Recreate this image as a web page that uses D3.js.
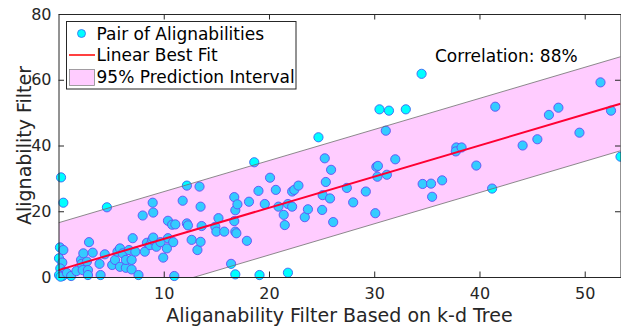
<!DOCTYPE html>
<html>
<head>
<meta charset="utf-8">
<script src="https://cdn.jsdelivr.net/npm/d3@7"></script>
<style>
  body { margin: 0; background: #fff; }
  svg { display: block; font-family: "DejaVu Sans", sans-serif; }
</style>
</head>
<body>
<div id="chart"></div>
<script>
// scatter values
const pairX = [0.24, 0.46, 0.14, 0.46, 0.05, 0.36, 0.17, 0.6, 0.05, 0.4, 0.2, 0.8, 1.2, 1.7,
  2.14, 2.2, 2.7, 2.36, 2.3, 2.8, 2.8, 2.9, 3.25, 3.9, 4.0, 4.4, 4.6, 5.1, 5.37, 5.6, 5.84,
  6.1, 5.84, 6.4, 6.4, 6.7, 6.95, 6.95, 7.05, 7.6, 7.3, 8.2, 8.0, 8.4, 8.7, 8.9, 9.0, 8.95,
  9.0, 9.3, 9.7, 9.95, 10.3, 10.4, 10.9, 10.4, 10.8, 11.1, 11.0, 11.8, 12.2, 12.3, 12.2,
  12.65, 13.2, 13.5, 13.4, 13.5, 13.6, 14.9, 15.0, 15.2, 15.75, 16.4, 16.7, 16.7, 16.8,
  17.0, 16.8, 16.9, 16.8, 17.9, 18.1, 18.6, 19.0, 19.1, 19.6, 20.1, 20.65, 20.9, 21.4,
  21.5, 21.8, 22.2, 21.8, 22.2, 22.4, 22.8, 23.4, 23.7, 24.7, 25.05, 25.1, 25.8, 25.4,
  25.9, 25.3, 26.1, 27.4, 28.0, 29.2, 30.1, 30.2, 30.35, 30.3, 31.2, 31.1, 30.5, 31.4,
  33.0, 32.0, 34.5, 34.6, 35.4, 35.5, 36.45, 37.8, 37.75, 38.3, 39.7, 41.2, 41.5, 44.1,
  45.5, 46.6, 47.5, 49.5, 51.5, 52.5, 53.4];
const pairY = [30.3, 22.6, 9.0, 8.2, 5.7, 4.4, 2.6, 1.6, 0.6, 0.3, 0.1, 1.2, 0.3, 1.8,
  5.2, 4.0, 4.7, 7.2, 2.1, 2.1, 0.6, 10.6, 7.4, 4.0, 0.6, 6.9, 21.2, 3.65, 5.2, 7.7, 8.7,
  7.2, 3.1, 2.8, 5.2, 8.2, 5.2, 2.3, 11.8, 0.6, 7.7, 7.7, 18.7, 10.4, 9.7, 11.3, 12.0, 22.6,
  19.6, 9.2, 10.6, 5.9, 8.7, 11.8, 10.6, 17.1, 15.9, 16.0, 0.3, 23.2, 16.3, 15.7, 27.8,
  11.3, 8.2, 10.7, 27.5, 21.4, 15.5, 15.3, 13.8, 17.9, 13.8, 4.0, 24.3, 17.0, 20.3,
  22.1, 13.8, 13.3, 0.8, 11.0, 22.9, 34.9, 26.2, 0.6, 22.2, 30.2, 26.5, 21.4, 18.9,
  15.8, 22.2, 21.4, 1.3, 26.0, 26.5, 27.8, 18.2, 20.6, 42.5, 20.4, 24.9, 23.9, 28.9,
  32.6, 36.1, 16.7, 27.1, 22.7, 26.0, 19.4, 33.5, 33.8, 30.5, 31.1, 44.5, 51.0, 50.6,
  51.0, 35.8, 61.8, 28.3, 28.4, 24.4, 29.4, 39.4, 38.2, 39.4, 33.9, 26.9, 51.8, 40.0,
  41.9, 49.3, 51.5, 43.9, 59.2, 50.6, 36.6];

// linear fit and 95% prediction band, endpoints
const fitX = [0, 53.4];
const fitY = [2.1, 52.7];
const bandUpper = [16.5, 67.0];
const bandLower = [-12.3, 38.4];

const xTicks = [10, 20, 30, 40, 50];
const yTicks = [0, 20, 40, 60, 80];
const legendLabels = ["Pair of Alignabilities", "Linear Best Fit", "95% Prediction Interval"];
const corrText = "Correlation: 88%";

const W = 621, H = 326;
const margin = { left: 58.5, right: 0.5, top: 14, bottom: 49 };
const axisColor = "#262626";

const svg = d3.select("#chart").append("svg")
  .attr("width", W).attr("height", H);

const x = d3.scaleLinear().domain([0, 53.4]).range([margin.left, W - margin.right]);
const y = d3.scaleLinear().domain([0, 80]).range([H - margin.bottom, margin.top]);

svg.append("clipPath").attr("id", "plotclip")
  .append("rect")
  .attr("x", x(0)).attr("y", y(80))
  .attr("width", x(53.4) - x(0)).attr("height", y(0) - y(80));

// points
svg.append("g").selectAll("circle")
  .data(pairX.map((d, i) => [d, pairY[i]]))
  .enter().append("circle")
  .attr("cx", d => x(d[0]))
  .attr("cy", d => y(d[1]))
  .attr("r", 4.6)
  .attr("fill", "#00ffff")
  .attr("stroke", "#3b63f2")
  .attr("stroke-width", 0.9);

// fit line
const line = d3.line().x(d => x(d[0])).y(d => y(d[1]));
svg.append("path")
  .datum(fitX.map((d, i) => [d, fitY[i]]))
  .attr("clip-path", "url(#plotclip)")
  .attr("d", line)
  .attr("fill", "none")
  .attr("stroke", "#ff0000")
  .attr("stroke-width", 2);

// prediction band drawn on top, translucent magenta
const bandArea = d3.area()
  .x(d => x(d[0])).y0(d => y(d[1])).y1(d => y(d[2]));
const bandData = fitX.map((d, i) => [d, bandLower[i], bandUpper[i]]);
const bandG = svg.append("g").attr("clip-path", "url(#plotclip)");
bandG.append("path")
  .datum(bandData)
  .attr("d", bandArea)
  .attr("fill", "#ff00ff")
  .attr("fill-opacity", 0.2);
[bandUpper, bandLower].forEach(b => {
  bandG.append("path")
    .datum(fitX.map((d, i) => [d, b[i]]))
    .attr("d", line)
    .attr("fill", "none")
    .attr("stroke", "#6e6e6e")
    .attr("stroke-width", 0.8);
});

// axes, ticks inward on all four sides
const tl = 5.5;
const axB = svg.append("g").attr("transform", `translate(0,${y(0)})`)
  .call(d3.axisBottom(x).tickValues(xTicks).tickSizeInner(-tl).tickSizeOuter(0).tickPadding(10.5));
const axT = svg.append("g").attr("transform", `translate(0,${y(80)})`)
  .call(d3.axisTop(x).tickValues(xTicks).tickSizeInner(-tl).tickSizeOuter(0).tickFormat(""));
const axL = svg.append("g").attr("transform", `translate(${x(0)},0)`)
  .call(d3.axisLeft(y).tickValues(yTicks).tickSizeInner(-tl).tickSizeOuter(0).tickPadding(7));
const axR = svg.append("g").attr("transform", `translate(${x(53.4)},0)`)
  .call(d3.axisRight(y).tickValues(yTicks).tickSizeInner(-tl).tickSizeOuter(0).tickFormat(""));
[axB, axT, axL, axR].forEach(a => {
  a.select(".domain").attr("stroke", axisColor).attr("stroke-width", 1);
  a.selectAll(".tick line").attr("stroke", axisColor);
  a.selectAll("text").attr("fill", axisColor)
    .style("font-family", "DejaVu Sans").style("font-size", "16px");
});

// axis titles
svg.append("text")
  .attr("x", (x(0) + x(53.4)) / 2).attr("y", 321.5)
  .attr("text-anchor", "middle")
  .attr("fill", axisColor)
  .style("font-size", "19px")
  .text("Aliganability Filter Based on k-d Tree");
svg.append("text")
  .attr("transform", `translate(31,${(y(0) + y(80)) / 2}) rotate(-90)`)
  .attr("text-anchor", "middle")
  .attr("fill", axisColor)
  .style("font-size", "19px")
  .text("Alignability Filter");

// correlation note
svg.append("text")
  .attr("x", 435).attr("y", 61.5)
  .attr("fill", "#000")
  .style("font-size", "17px")
  .text(corrText);

// legend
const lg = svg.append("g");
lg.append("rect")
  .attr("x", 66.5).attr("y", 21.5).attr("width", 229.5).attr("height", 67.5)
  .attr("fill", "#fff").attr("stroke", axisColor).attr("stroke-width", 1);
const rowY = [33.5, 55, 77];
lg.append("circle").attr("cx", 81.5).attr("cy", rowY[0]).attr("r", 4)
  .attr("fill", "#00ffff").attr("stroke", "#3b63f2").attr("stroke-width", 0.8);
lg.append("line").attr("x1", 69).attr("x2", 95).attr("y1", rowY[1]).attr("y2", rowY[1])
  .attr("stroke", "#ff0000").attr("stroke-width", 1.5);
lg.append("rect").attr("x", 69.5).attr("y", 69.5).attr("width", 25).attr("height", 16)
  .attr("fill", "#ffccff").attr("stroke", "#8a8a8a").attr("stroke-width", 0.8);
lg.selectAll("text.lab").data(legendLabels).enter().append("text")
  .attr("class", "lab")
  .attr("x", 96.5).attr("y", (d, i) => rowY[i] + 6)
  .attr("fill", "#000")
  .style("font-size", "17px")
  .text(d => d);
</script>
</body>
</html>
